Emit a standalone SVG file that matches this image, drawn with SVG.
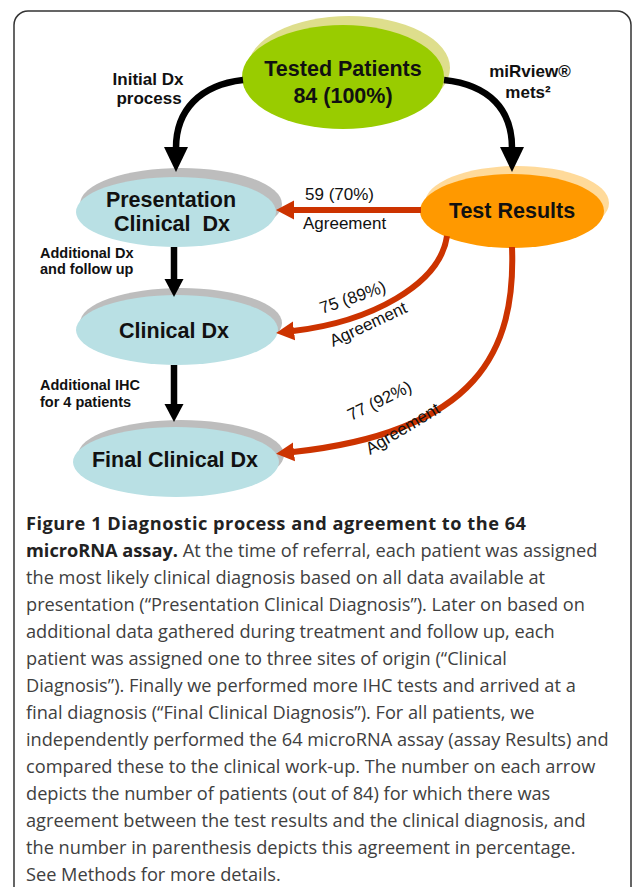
<svg xmlns="http://www.w3.org/2000/svg" width="633" height="887" viewBox="0 0 633 887">
<style>
.lbl{font-family:"Liberation Sans",Arial,sans-serif;font-weight:bold;fill:#111;text-anchor:middle}
.node{font-size:21.5px}
.side{font-family:"Liberation Sans",Arial,sans-serif;font-weight:bold;font-size:14.5px;fill:#111}
.top{font-family:"Liberation Sans",Arial,sans-serif;font-weight:bold;font-size:17px;fill:#111;text-anchor:middle}
.num{font-family:"Liberation Sans",Arial,sans-serif;font-size:17px;fill:#111}
.cap{font-family:"Open Sans",sans-serif;font-size:18.2px;fill:#404040}
.capb{font-weight:bold;fill:#222}
.blk{stroke:#000;stroke-width:6.5;fill:none}
.red{stroke:#CC3300;stroke-width:6;fill:none}
.blue{fill:#B9E0E4}
.gray{fill:#BDBDBD}
</style>
<defs>
<marker id="ahBig" viewBox="0 -13 26 26" refX="1" refY="0" markerWidth="26" markerHeight="26" markerUnits="userSpaceOnUse" orient="auto">
<path d="M0,-12 L25,0 L0,12 z" fill="#000"/>
</marker>
<marker id="ahBlk" viewBox="0 -10 20 20" refX="1" refY="0" markerWidth="20" markerHeight="20" markerUnits="userSpaceOnUse" orient="auto">
<path d="M0,-9.5 L18,0 L0,9.5 z" fill="#000"/>
</marker>
<marker id="ahRed" viewBox="0 -10 20 20" refX="1" refY="0" markerWidth="20" markerHeight="20" markerUnits="userSpaceOnUse" orient="auto">
<path d="M0,-9.5 L18,0 L0,9.5 z" fill="#CC3300"/>
</marker>
</defs>
<rect x="14" y="11" width="617" height="900" rx="14" fill="#fff" stroke="#333" stroke-width="1.5"/>

<g id="tested">
<ellipse cx="349" cy="68" rx="101" ry="52" fill="#DEDE8C"/>
<ellipse cx="343" cy="77" rx="101" ry="52" fill="#99CC00"/>
<text class="lbl node" x="343" y="76">Tested Patients</text>
<text class="lbl node" x="343" y="103">84 (100%)</text>
</g>
<g id="presentation">
<ellipse class="gray" cx="181" cy="204" rx="101" ry="36"/>
<ellipse class="blue" cx="176" cy="212" rx="100" ry="35"/>
<text class="lbl node" x="171" y="207">Presentation</text>
<text class="lbl node" x="172" y="231">Clinical&#160; Dx</text>
</g>
<g id="testresults">
<ellipse cx="517" cy="203" rx="92" ry="37" fill="#FFDA9A"/>
<ellipse cx="512" cy="211" rx="92" ry="37" fill="#FF9900"/>
<text class="lbl node" x="512" y="218">Test Results</text>
</g>
<g id="clinical">
<ellipse class="gray" cx="181" cy="323" rx="101" ry="35"/>
<ellipse class="blue" cx="177" cy="330" rx="101" ry="35"/>
<text class="lbl node" x="174" y="338">Clinical Dx</text>
</g>
<g id="final">
<ellipse class="gray" cx="181" cy="455" rx="103" ry="35"/>
<ellipse class="blue" cx="176" cy="462" rx="103" ry="35"/>
<text class="lbl node" x="175" y="467">Final Clinical Dx</text>
</g>

<g id="connectors">
<path class="blk" d="M243,80 C200,85 176,110 176,148" marker-end="url(#ahBig)"/>
<path class="blk" d="M444,80 C490,85 512,110 512,148" marker-end="url(#ahBig)"/>
<path class="blk" d="M174,247 L174,280" marker-end="url(#ahBlk)"/>
<path class="blk" d="M174,365 L174,405" marker-end="url(#ahBlk)"/>
<path class="red" d="M421,210 L293,210" marker-end="url(#ahRed)"/>
<path class="red" d="M447,236 C440,285 370,322 293,331" marker-end="url(#ahRed)"/>
<path class="red" d="M512,247 C516,350 478,432 293,452" marker-end="url(#ahRed)"/>
</g>

<g id="labels">
<text class="top" x="148" y="85">Initial Dx</text>
<text class="top" x="149" y="104">process</text>
<text class="top" x="530" y="77">miRview®</text>
<text class="top" x="528" y="98">mets²</text>
<text class="side" x="40" y="258">Additional Dx</text>
<text class="side" x="40" y="274">and follow up</text>
<text class="side" x="40" y="390">Additional IHC</text>
<text class="side" x="40" y="407">for 4 patients</text>
<text class="num" x="305" y="200">59 (70%)</text>
<text class="num" x="303" y="229">Agreement</text>
<text class="num" transform="translate(322,314) rotate(-19)">75 (89%)</text>
<text class="num" transform="translate(333,347) rotate(-25)">Agreement</text>
<text class="num" transform="translate(351,421) rotate(-26)">77 (92%)</text>
<text class="num" transform="translate(370,455) rotate(-31)">Agreement</text>
</g>

<g id="caption" class="cap">
<text x="26" y="530" textLength="500" lengthAdjust="spacing"><tspan class="capb">Figure 1 Diagnostic process and agreement to the 64</tspan></text>
<text x="26" y="557"><tspan class="capb">microRNA assay.</tspan> At the time of referral, each patient was assigned</text>
<text x="26" y="584">the most likely clinical diagnosis based on all data available at</text>
<text x="26" y="611">presentation (“Presentation Clinical Diagnosis”). Later on based on</text>
<text x="26" y="638">additional data gathered during treatment and follow up, each</text>
<text x="26" y="665">patient was assigned one to three sites of origin (“Clinical</text>
<text x="26" y="692">Diagnosis”). Finally we performed more IHC tests and arrived at a</text>
<text x="26" y="719">final diagnosis (“Final Clinical Diagnosis”). For all patients, we</text>
<text x="26" y="746">independently performed the 64 microRNA assay (assay Results) and</text>
<text x="26" y="773">compared these to the clinical work-up. The number on each arrow</text>
<text x="26" y="800">depicts the number of patients (out of 84) for which there was</text>
<text x="26" y="827">agreement between the test results and the clinical diagnosis, and</text>
<text x="26" y="854">the number in parenthesis depicts this agreement in percentage.</text>
<text x="26" y="881">See Methods for more details.</text>
</g>
</svg>
